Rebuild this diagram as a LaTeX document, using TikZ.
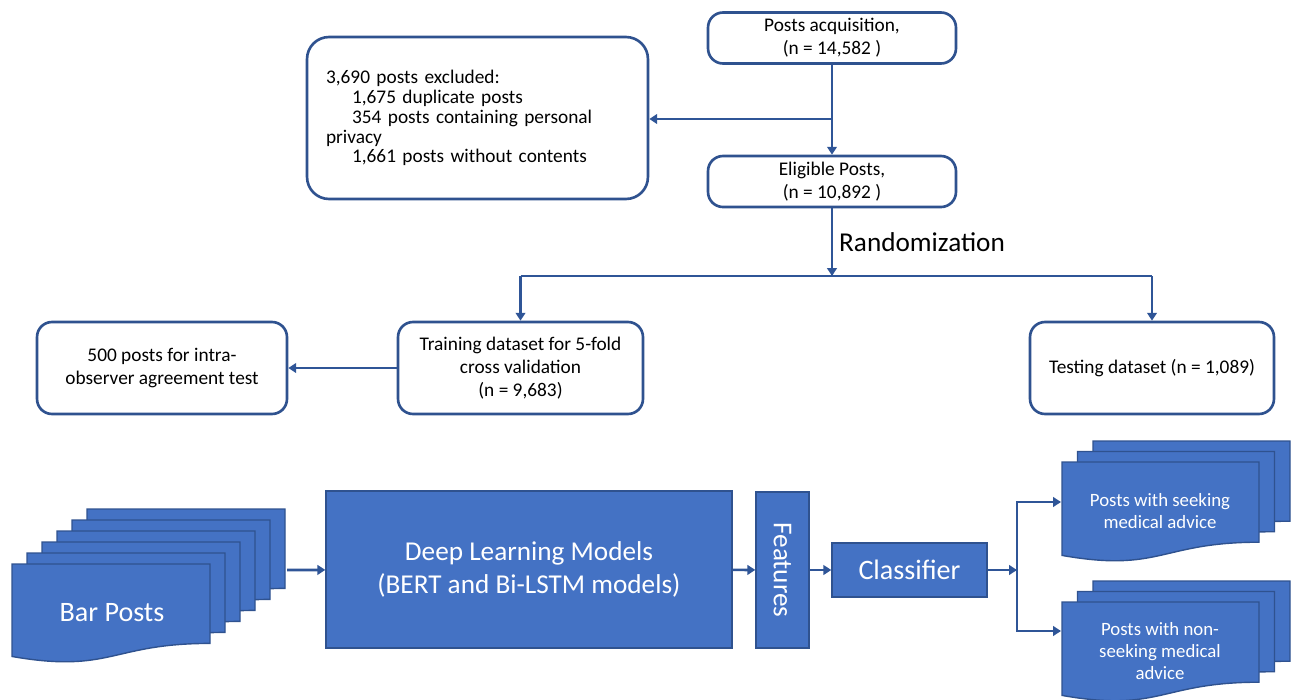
\documentclass[tikz,border=0pt]{standalone}
\usepackage{fontspec}
\setmainfont{Carlito}
\usetikzlibrary{arrows.meta,positioning,calc}
\usepackage{xcolor}
\definecolor{linkblue}{HTML}{2F5597}
\definecolor{boxblue}{HTML}{4472C4}
\definecolor{edgeblue}{HTML}{2F528F}

% stacked document shape: top-left x, top-left y, width, height
\newcommand{\docshape}[4]{%
  \filldraw[docfill] (#1,#2) -- (#1+#3,#2) -- (#1+#3,#2+0.802*#4)
    .. controls (#1+0.5*#3,#2+0.802*#4) and (#1+0.5*#3,#2+1.108*#4) .. (#1,#2+0.934*#4) -- cycle;}

\begin{document}
\begin{tikzpicture}[
    x=0.02cm, y=-0.02cm,
    roundbox/.style={rectangle, rounded corners=0.3cm, draw=edgeblue, line width=1.5pt, fill=white, text centered, align=center, font=\fontsize{11}{13.2}\selectfont},
    bluebox/.style={rectangle, draw=edgeblue, line width=0.8pt, fill=boxblue, text=white, align=center, font=\fontsize{15.5}{19}\selectfont},
    doctext/.style={text=white, align=center, font=\fontsize{10.7}{12.5}\selectfont},
    docfill/.style={fill=boxblue, draw=edgeblue, line width=0.8pt},
    line/.style={draw=linkblue, line width=1.5pt},
    arrow/.style={line, -{Triangle[length=4.5pt,width=5.5pt]}}
]
\useasboundingbox (0,0) rectangle (1292,700);

% upper flow chart
\node (acq) [roundbox, minimum width=4.96cm, minimum height=1.02cm] at (832,38) {Posts acquisition,\\(n = 14,582 )};
\node (excl) [roundbox, rounded corners=0.44cm, minimum width=6.82cm, minimum height=3.24cm, text width=6.06cm, inner xsep=0.38cm, align=left, font=\fontsize{11}{11.3}\selectfont] at (477.5,118)
  {3,690 posts excluded:\\\hspace*{0.52cm}1,675 duplicate posts\\\hspace*{0.52cm}354 posts containing personal\\privacy\\\hspace*{0.52cm}1,661 posts without contents};
\node (elig) [roundbox, minimum width=4.96cm, minimum height=1.02cm] at (832,181.5) {Eligible Posts,\\(n = 10,892 )};
\node (train) [roundbox, minimum width=4.9cm, minimum height=1.84cm] at (520.5,368) {Training dataset for 5-fold\\cross validation\\(n = 9,683)};
\node (intra) [roundbox, minimum width=5cm, minimum height=1.84cm] at (162,368) {500 posts for intra-\\observer agreement test};
\node (test) [roundbox, minimum width=4.88cm, minimum height=1.84cm] at (1152,368) {Testing dataset (n = 1,089)};

\coordinate (branch) at (832,119);
\coordinate (split) at (832,276);

\draw[arrow] (acq) -- (elig);
\draw[arrow] (branch) -- (branch -| excl.east);
\draw[arrow] (elig) -- node[right, font=\fontsize{15.5}{19}\selectfont] {Randomization} (split);
\draw[line] (split -| train) -- (split -| test);
\draw[arrow] (split -| train) -- (train);
\draw[arrow] (split -| test) -- (test);
\draw[arrow] (train) -- (intra);

% lower pipeline
\foreach \i in {5,...,0} {\docshape{12+15*\i}{564-11*\i}{198}{99}}
\foreach \i in {2,1,0} {\docshape{1062+15.5*\i}{462-10.5*\i}{197}{100}}
\foreach \i in {2,1,0} {\docshape{1062+15.5*\i}{602-10.5*\i}{197}{100}}

\node (barposts) [text=white, font=\fontsize{16}{19}\selectfont] at (112,613) {Bar Posts};
\node (seekposts) [doctext] at (1160,511) {Posts with seeking\\medical advice};
\node (nonseekposts) [doctext] at (1160,651) {Posts with non-\\seeking medical\\advice};

\node (dl) [bluebox, minimum width=8.12cm, minimum height=3.14cm] at (529,569.5) {Deep Learning Models\\(BERT and Bi-LSTM models)};
\node (feat) [bluebox, minimum width=1.06cm, minimum height=3.12cm, inner sep=0pt] at (782.5,570) {\rotatebox{-90}{Features}};
\node (clf) [bluebox, minimum width=3.1cm, minimum height=1.08cm, font=\fontsize{16}{19}\selectfont] at (909.5,570) {Classifier};

\coordinate (barstack) at (287,570);
\coordinate (fork) at (1017,570);
\coordinate (seekin) at (1061,502);
\coordinate (nonseekin) at (1061,631);

\draw[arrow] (barstack) -- (dl);
\draw[arrow] (dl) -- (feat);
\draw[arrow] (feat) -- (clf);
\draw[arrow] (clf) -- (fork);
\draw[arrow] (fork) |- (seekin);
\draw[arrow] (fork) |- (nonseekin);

\end{tikzpicture}
\end{document}
